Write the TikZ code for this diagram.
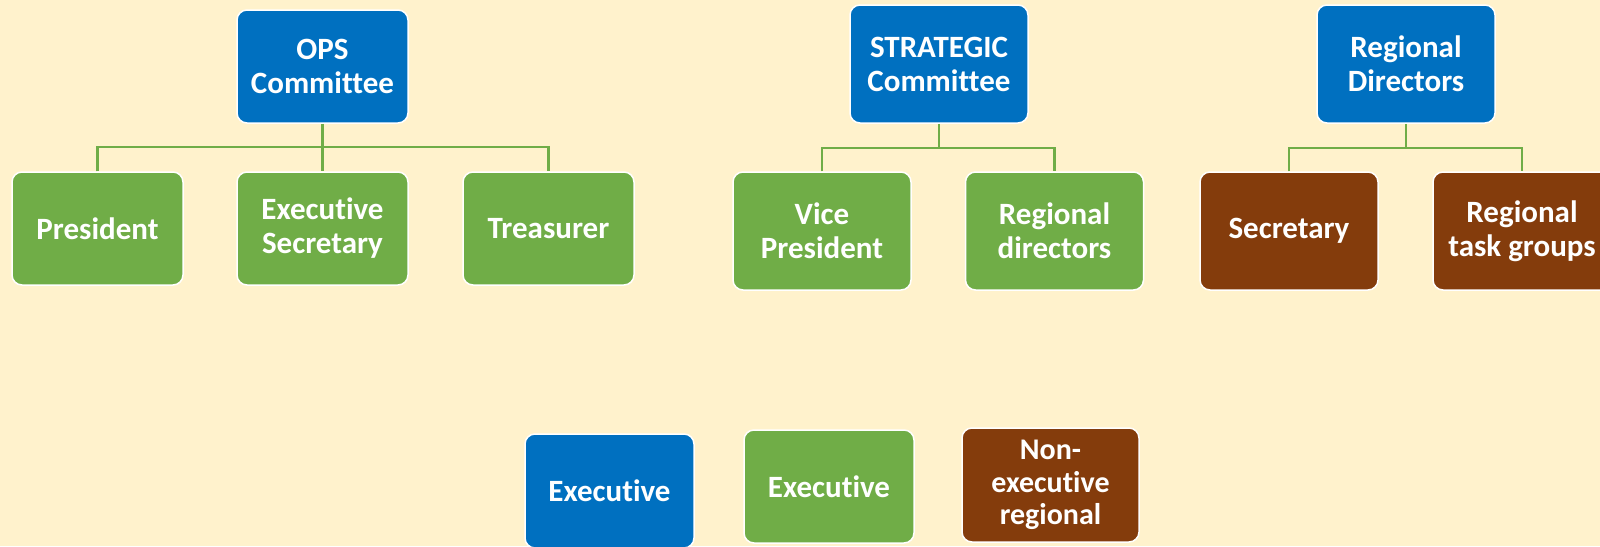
\documentclass[tikz,border=0pt]{standalone}
\usepackage{fontspec}
\setmainfont{Carlito}[Ligatures={NoCommon,NoRequired,NoContextual}]
\definecolor{bgc}{HTML}{FFF2CC}
\definecolor{blu}{HTML}{0070C0}
\definecolor{grn}{HTML}{70AD47}
\definecolor{brn}{HTML}{843C0C}
\tikzset{
  box/.style={rounded corners=10pt, draw=white, line width=1.5pt, text=white,
    font=\fontsize{31}{34}\selectfont\bfseries, align=center, inner sep=0pt},
  smallbox/.style={box, minimum width=171pt, minimum height=113pt},
  bigbox/.style={box, minimum width=178pt, minimum height=118pt},
  bluebox/.style={fill=blu},
  greenbox/.style={fill=grn},
  brownbox/.style={fill=brn},
  conn/.style={draw=grn, line width=2.5pt}
}
\begin{document}
\begin{tikzpicture}[x=1pt,y=-1pt]
\fill[bgc] (0,0) rectangle (1600,546);
\useasboundingbox (0,0) rectangle (1600,546);

% OPS group
\node[smallbox,bluebox] (ops) at (322.5,66.5) {OPS\\Committee};
\node[smallbox,greenbox] (pres) at (97.5,228.5) {President};
\node[smallbox,greenbox] (exs) at (322.5,228.5) {Executive\\Secretary};
\node[smallbox,greenbox] (tre) at (548.5,228.5) {Treasurer};
\coordinate (j1) at (322.5,147);
\draw[conn] (ops.south) -- (exs.north);
\draw[conn] (pres.north) |- (j1) -| (tre.north);

% STRATEGIC group
\node[bigbox,bluebox] (str) at (939,64) {STRATEGIC\\Committee};
\node[bigbox,greenbox] (vp) at (822,231) {Vice\\President};
\node[bigbox,greenbox] (rd) at (1054.5,231) {Regional\\directors};
\coordinate (j2) at (939,148);
\draw[conn] (str.south) -- (j2);
\draw[conn] (vp.north) |- (j2) -| (rd.north);

% Regional Directors group
\node[bigbox,bluebox] (rdir) at (1406,64) {Regional\\Directors};
\node[bigbox,brownbox] (sec) at (1289,231) {Secretary};
\node[bigbox,brownbox] (rtg) at (1522,231) {Regional\\task groups};
\coordinate (j3) at (1406,148);
\draw[conn] (rdir.south) -- (j3);
\draw[conn] (sec.north) |- (j3) -| (rtg.north);

% Legend
\node[box,bluebox, minimum width=169pt, minimum height=114pt] (lg1) at (609.5,491) {Executive};
\node[box,greenbox, minimum width=170pt, minimum height=113pt] (lg2) at (829,486.5) {Executive};
\node[box,brownbox, minimum width=177pt, minimum height=114pt, font=\fontsize{30}{32.5}\selectfont\bfseries] (lg3) at (1050.5,485) {Non-\\executive\\regional};
\end{tikzpicture}
\end{document}
